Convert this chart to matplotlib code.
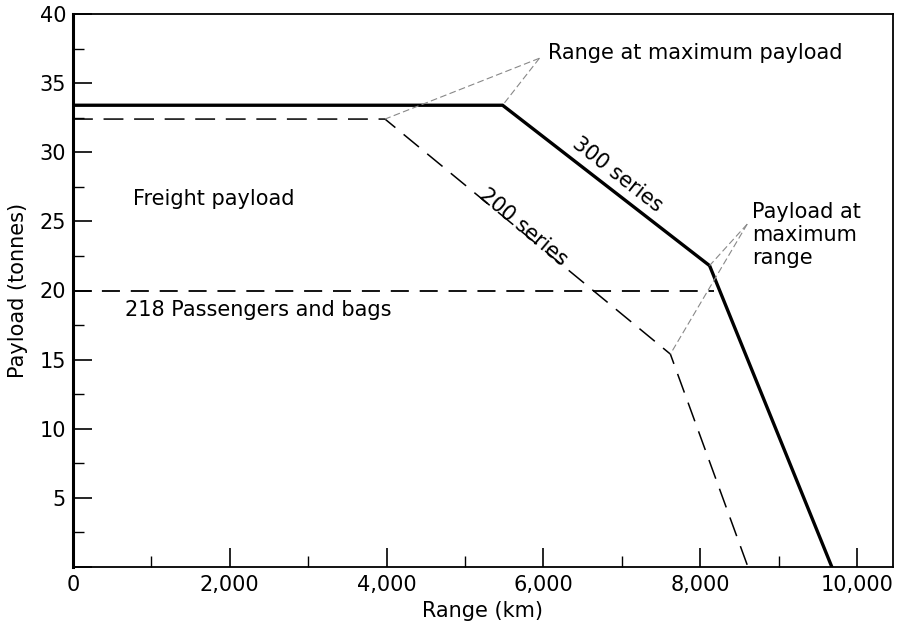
import matplotlib
matplotlib.use("Agg")
import matplotlib.pyplot as plt
from matplotlib.ticker import MultipleLocator

plt.rcParams['font.family'] = ['DejaVu Sans']

# Data (range km, payload tonnes)
s300_range = [0, 5480, 8120, 9680]
s300_payload = [33.4, 33.4, 21.8, 0]
s200_range = [0, 3980, 7620, 8610]
s200_payload = [32.4, 32.4, 15.4, 0]
pax_range = [0, 8180]
pax_payload = [20.0, 20.0]

x_ticks = [0, 2000, 4000, 6000, 8000, 10000]
x_ticklabels = ["0", "2,000", "4,000", "6,000", "8,000", "10,000"]
y_ticks = [5, 10, 15, 20, 25, 30, 35, 40]

fig = plt.figure(figsize=(8.98, 6.28), dpi=100)
ax = fig.add_axes([73/898, 1-567/628, (893-73)/898, (567-14)/628])

ax.plot(s300_range, s300_payload, color='black', lw=2.4, solid_joinstyle='miter')
ax.plot(s200_range, s200_payload, color='black', lw=1.1, dashes=(13, 7))
ax.plot(pax_range, pax_payload, color='black', lw=1.3, dashes=(10, 6))

# leader lines
lc = '#888888'
tip1 = (5950, 36.8)
ax.plot([tip1[0], s200_range[1]], [tip1[1], s200_payload[1]], color=lc, lw=0.8, dashes=(6, 3))
ax.plot([tip1[0], s300_range[1]], [tip1[1], s300_payload[1]], color=lc, lw=0.8, dashes=(6, 3))
tip2 = (8600, 24.8)
ax.plot([tip2[0], s300_range[2]], [tip2[1], s300_payload[2]], color=lc, lw=0.8, dashes=(6, 3))
ax.plot([tip2[0], s200_range[2]], [tip2[1], s200_payload[2]], color=lc, lw=0.8, dashes=(6, 3))

fs = 15
ax.text(6060, 37.2, "Range at maximum payload", fontsize=fs, va='center', ha='left')
ax.text(8660, 26.4, "Payload at\nmaximum\nrange", fontsize=fs, va='top', ha='left', linespacing=1.2)
ax.text(770, 26.6, "Freight payload", fontsize=fs, va='center', ha='left')
ax.text(660, 18.6, "218 Passengers and bags", fontsize=fs, va='center', ha='left')
ax.text(6940, 28.4, "300 series", fontsize=fs, va='center', ha='center', rotation=-38)
ax.text(5740, 24.6, "200 series", fontsize=fs, va='center', ha='center', rotation=-40)

ax.set_xlim(0, 10460)
ax.set_ylim(0, 40)
ax.set_xticks(x_ticks)
ax.set_xticklabels(x_ticklabels)
ax.set_yticks([0] + y_ticks)
ax.set_yticklabels([""] + [str(v) for v in y_ticks])
ax.xaxis.set_minor_locator(MultipleLocator(1000))
ax.yaxis.set_minor_locator(MultipleLocator(2.5))
ax.tick_params(which='major', direction='in', length=14, width=1.2, labelsize=fs, pad=6)
ax.tick_params(which='minor', direction='in', length=8, width=1.0)
ax.tick_params(axis='y', which='major', pad=5)

for s in ['top', 'right', 'bottom']:
    ax.spines[s].set_linewidth(1.3)
ax.spines['left'].set_linewidth(2.2)

ax.set_xlabel("Range (km)", fontsize=fs, labelpad=4)
ax.set_ylabel("Payload (tonnes)", fontsize=fs, labelpad=8)

fig.savefig("out.png", dpi=100)
